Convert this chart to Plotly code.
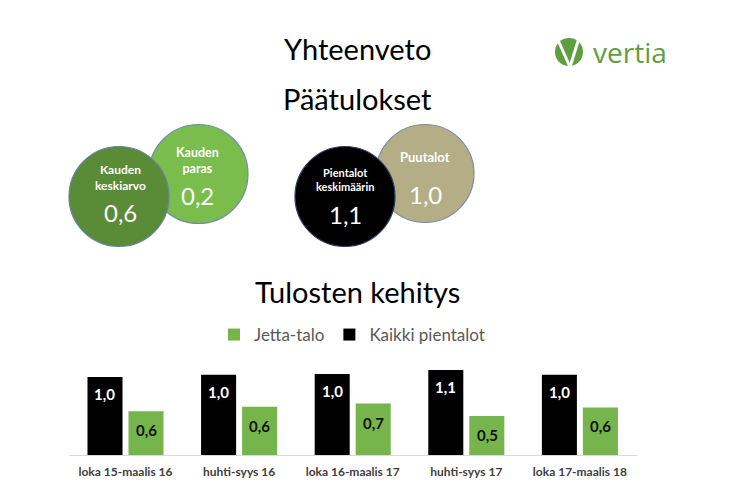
import plotly.graph_objects as go

# ---- data ----
categories = ["loka 15-maalis 16", "huhti-syys 16", "loka 16-maalis 17", "huhti-syys 17", "loka 17-maalis 18"]
kaikki_pientalot = [1.00, 1.03, 1.04, 1.09, 1.03]
jetta_talo = [0.56, 0.62, 0.66, 0.50, 0.61]

circle_labels = ["Kauden<br>paras", "Kauden<br>keskiarvo", "Puutalot", "Pientalot<br>keskimäärin"]
circle_values = [0.2, 0.6, 1.0, 1.1]

W, H = 730, 489
OFF = 8  # page body margin
def px(x):
    return (x - OFF) / W
def py(y):
    return 1 - (y - OFF) / H

def fmt(v):
    return f"{v:.1f}".replace(".", ",")

FONT = "Lato"
GREEN = "#76b54b"

fig = go.Figure()
fig.add_trace(go.Bar(
    x=categories, y=kaikki_pientalot, name="Kaikki pientalot",
    marker=dict(color="#000000", line=dict(width=0)), legendrank=2,
))
fig.add_trace(go.Bar(
    x=categories, y=jetta_talo, name="Jetta-talo",
    marker=dict(color=GREEN, line=dict(width=0)), legendrank=1,
))

annotations = []
# bar value labels
for c, v in zip(categories, kaikki_pientalot):
    annotations.append(dict(x=c, y=v, xref="x", yref="y", text=fmt(v), showarrow=False,
                            xshift=-20.7, yshift=-17, yanchor="middle",
                            font=dict(family=FONT, size=15, color="white", weight="bold")))
for c, v in zip(categories, jetta_talo):
    annotations.append(dict(x=c, y=v, xref="x", yref="y", text=fmt(v), showarrow=False,
                            xshift=20.7, yshift=-19, yanchor="middle",
                            font=dict(family=FONT, size=15, color="#111111", weight="bold")))

# titles
for txt, yy in [("Yhteenveto", 48), ("Päätulokset", 98), ("Tulosten kehitys", 291)]:
    annotations.append(dict(x=px(357.5), y=py(yy), xref="paper", yref="paper", text=txt,
                            showarrow=False, xanchor="center", yanchor="middle",
                            font=dict(family=FONT, size=29, color="#000000")))

# logo text
annotations.append(dict(x=px(591), y=py(52), xref="paper", yref="paper", text="vertia",
                        showarrow=False, xanchor="left", yanchor="middle",
                        font=dict(family="Open Sans", size=28, color="#5e9e3f")))

# circles: (cx, cy, r, fill, outline)
circles = [
    (198.5, 174, 49.5, "#7abd4c", "#6f8cb0"),
    (119, 196.5, 50, "#5a8b36", "#6482a8"),
    (425, 173.5, 49, "#b4ae86", "#7a8ca8"),
    (345, 196.5, 50, "#000000", "#2c3d66"),
]
shapes = []
for cx, cy, r, fill, line in circles:
    shapes.append(dict(type="circle", xref="paper", yref="paper",
                       x0=px(cx - r), x1=px(cx + r), y0=py(cy + r), y1=py(cy - r),
                       fillcolor=fill, line=dict(color=line, width=1.2)))

# circle texts: label pos, label size, value pos
circle_text = [
    ((197, 161), 12.5, (197, 196)),
    ((120, 177.5), 12, (120, 212.5)),
    ((425, 157), 13, (425, 194)),
    ((345, 179.5), 11, (345, 214.5)),
]
for lab, val, ((lx, ly), ls, (vx, vy)) in zip(circle_labels, circle_values, circle_text):
    annotations.append(dict(x=px(lx), y=py(ly), xref="paper", yref="paper", text=lab,
                            showarrow=False, xanchor="center", yanchor="middle",
                            font=dict(family=FONT, size=ls, color="white", weight="bold")))
    annotations.append(dict(x=px(vx), y=py(vy), xref="paper", yref="paper", text=fmt(val),
                            showarrow=False, xanchor="center", yanchor="middle",
                            font=dict(family=FONT, size=24, color="white")))

# logo icon
shapes.append(dict(type="circle", xref="paper", yref="paper",
                   x0=px(555), x1=px(583), y0=py(66), y1=py(38),
                   fillcolor="#5e9e3f", line=dict(width=0)))
for (x0, y0, x1, y1) in [(558, 40, 570, 67), (579, 38, 570, 67)]:
    shapes.append(dict(type="line", xref="paper", yref="paper",
                       x0=px(x0), y0=py(y0), x1=px(x1), y1=py(y1),
                       line=dict(color="white", width=3)))

fig.update_layout(
    width=W, height=H,
    margin=dict(l=0, r=0, t=0, b=0),
    paper_bgcolor="white", plot_bgcolor="white",
    barmode="group", bargap=0.278, bargroupgap=0.146,
    separators=", ",
    showlegend=True,
    legend=dict(orientation="h", x=px(352), y=py(335), xanchor="center", yanchor="middle",
                font=dict(family=FONT, size=17, color="#595959"), itemwidth=30,
                bgcolor="rgba(0,0,0,0)"),
    xaxis=dict(domain=[px(68.7), px(636.7)], type="category", showline=True,
               linecolor="#d9d9d9", linewidth=1, ticks="", showgrid=False,
               ticklabelstandoff=6,
               tickfont=dict(family=FONT, size=12, color="#404040", weight="bold")),
    yaxis=dict(domain=[py(455), py(360)], range=[0, 1.218], visible=False, fixedrange=True),
    annotations=annotations,
    shapes=shapes,
    font=dict(family=FONT),
)

fig.write_html("out.html")
